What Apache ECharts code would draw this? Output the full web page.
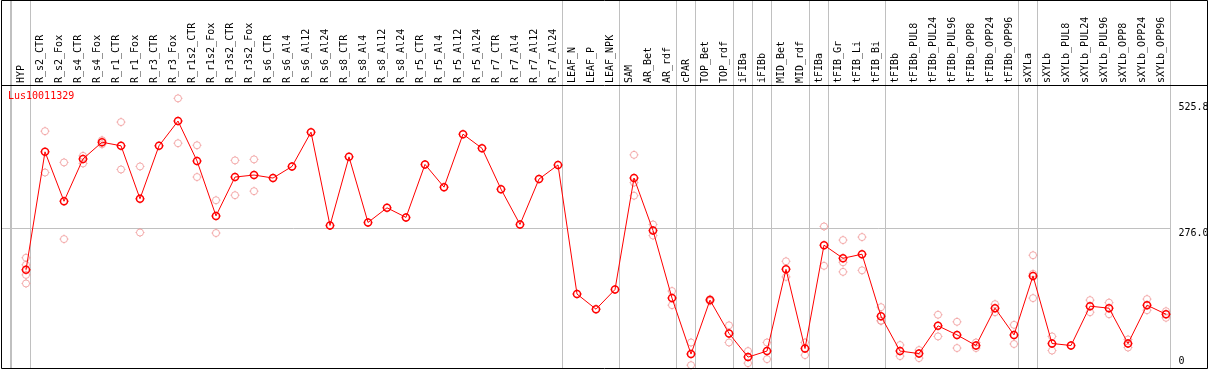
<!DOCTYPE html>
<html>
<head>
<meta charset="utf-8">
<script src="https://cdn.jsdelivr.net/npm/echarts@6/dist/echarts.min.js"></script>
<style>
html,body{margin:0;padding:0;background:#ffffff;}
#chart{width:1209px;height:370px;}
</style>
</head>
<body>
<div id="chart"></div>
<script>
// ---- data ----
const geneId = 'Lus10011329';
const categories = [
  'HYP','R_s2_CTR','R_s2_Fox','R_s4_CTR','R_s4_Fox','R_r1_CTR','R_r1_Fox','R_r3_CTR','R_r3_Fox',
  'R_r1s2_CTR','R_r1s2_Fox','R_r3s2_CTR','R_r3s2_Fox','R_s6_CTR','R_s6_Al4','R_s6_Al12','R_s6_Al24',
  'R_s8_CTR','R_s8_Al4','R_s8_Al12','R_s8_Al24','R_r5_CTR','R_r5_Al4','R_r5_Al12','R_r5_Al24',
  'R_r7_CTR','R_r7_Al4','R_r7_Al12','R_r7_Al24','LEAF_N','LEAF_P','LEAF_NPK','SAM','AR_Bet','AR_rdf',
  'cPAR','TOP_Bet','TOP_rdf','iFIBa','iFIBb','MID_Bet','MID_rdf','tFIBa','tFIB_Gr','tFIB_Li','tFIB_Bi',
  'tFIBb','tFIBb_PUL8','tFIBb_PUL24','tFIBb_PUL96','tFIBb_OPP8','tFIBb_OPP24','tFIBb_OPP96',
  'sXYLa','sXYLb','sXYLb_PUL8','sXYLb_PUL24','sXYLb_PUL96','sXYLb_OPP8','sXYLb_OPP24','sXYLb_OPP96'
];
const means = [
  193, 427, 329, 413, 446, 439, 334, 439, 488, 409, 300, 377, 381, 375, 398, 466, 281,
  417, 287, 316, 297, 402, 357, 462, 434, 353, 283, 373, 401, 145, 115, 154, 375, 271, 137,
  26, 133, 67, 20, 32, 194, 37, 242, 216, 224, 101, 32, 27, 82, 64, 43, 117, 64,
  181, 47, 43, 121, 117, 47, 123, 105
];
const replicates = [
  [217, 203, 183, 166], [468, 386], [406, 254], [419, 404], [450, 442], [486, 392], [398, 267], [],
  [533, 444], [440, 377], [331, 266], [410, 341], [412, 349], [], [], [], [],
  [], [], [], [], [], [], [], [],
  [], [], [], [], [], [], [], [421, 366, 340], [283, 261], [151, 123],
  [49, 4], [135, 131], [83, 49], [32, 8], [49, 16], [210, 179], [49, 24], [279, 201], [252, 208, 189], [258, 192], [119, 92, 92],
  [44, 22], [34, 18], [104, 61], [90, 38], [49, 38], [125, 109], [84, 46],
  [222, 185, 137], [61, 33], [], [133, 109], [128, 105], [55, 39], [135, 113], [111, 98]
];
const yTicks = [0, 276.0, 525.8];
const yGridValues = [276.0];
const groupStarts = [0, 1, 29, 32, 35, 36, 38, 39, 40, 42, 43, 46, 53, 54];
const yMax = 557.5;

// ---- build ----
const FONT = 'DejaVu Sans Mono';
const repPoints = [];
replicates.forEach((arr, i) => arr.forEach(v => repPoints.push([i, v])));

const markerPath = 'path://M-3.5,0A3.5,3.5 0 1 1 3.5,0A3.5,3.5 0 1 1 -3.5,0ZM0,-4.5L0,-3.5M0,3.5L0,4.5M-4.5,0L-3.5,0M3.5,0L4.5,0';

const chart = echarts.init(document.getElementById('chart'), null, {renderer: 'canvas'});
chart.setOption({
  animation: false,
  backgroundColor: '#ffffff',
  title: {
    text: geneId, left: 8, top: 91, padding: 0,
    textStyle: {color: '#ff0000', fontSize: 10, fontWeight: 'normal', fontFamily: FONT}
  },
  grid: [
    {left: 16.5, top: 86, width: 1159, height: 281.2, containLabel: false, outerBoundsMode: 'none'},
    {left: 11.5, top: 0, width: 1159, height: 369, containLabel: false, outerBoundsMode: 'none'},
    {left: 1.5, top: 86, width: 1169, height: 281.2, containLabel: false, outerBoundsMode: 'none'}
  ],
  xAxis: [
    {type: 'category', gridIndex: 0, data: categories, boundaryGap: true, show: false},
    {
      type: 'category', gridIndex: 1, data: categories, boundaryGap: true,
      position: 'top', offset: -85,
      axisLine: {show: false}, axisTick: {show: false},
      axisLabel: {interval: 0, rotate: 90, margin: 2, fontFamily: FONT, fontSize: 10, color: '#000000'},
      splitLine: {show: true, showMinLine: true, showMaxLine: true,
                  interval: (i) => groupStarts.indexOf(i) >= 0,
                  lineStyle: {color: '#c0c0c0', width: 1}}
    },
    {type: 'value', gridIndex: 2, show: false}
  ],
  yAxis: [
    {type: 'value', gridIndex: 0, min: 0, max: yMax, show: false},
    {type: 'value', gridIndex: 1, show: false},
    {
      type: 'value', gridIndex: 2, position: 'right', min: 0, max: yMax,
      axisLine: {show: false},
      axisTick: {show: false, customValues: yGridValues},
      splitLine: {show: true, lineStyle: {color: '#c0c0c0', width: 1}},
      axisLabel: {
        customValues: yTicks, margin: 8, align: 'left', verticalAlign: 'middle',
        formatter: (v) => v === 0 ? '{b|0}' : '{t|' + v.toFixed(1) + '}',
        rich: {
          t: {padding: [11, 0, 0, 0], fontFamily: FONT, fontSize: 10, color: '#000000'},
          b: {padding: [0, 0, 11, 0], fontFamily: FONT, fontSize: 10, color: '#000000'}
        }
      }
    }
  ],
  series: [
    {
      type: 'scatter', xAxisIndex: 0, yAxisIndex: 0, data: repPoints, z: 1,
      symbol: markerPath, symbolSize: 9,
      itemStyle: {color: 'rgba(0,0,0,0)', borderColor: '#f09696', borderWidth: 1}
    },
    {
      type: 'line', xAxisIndex: 0, yAxisIndex: 0, data: means, z: 3,
      symbol: markerPath, symbolSize: 9, showSymbol: true, showAllSymbol: true,
      lineStyle: {color: '#ff0000', width: 1},
      itemStyle: {color: 'rgba(0,0,0,0)', borderColor: '#ff0000', borderWidth: 1.5}
    }
  ],
  graphic: [
    {type: 'line', z: 0, silent: true, shape: {x1: 10.5, y1: 0.5, x2: 10.5, y2: 368.5},
     style: {stroke: '#c0c0c0', lineWidth: 1}},
    {type: 'rect', z: 100, silent: true, shape: {x: 1.5, y: 0.5, width: 1206, height: 368},
     style: {fill: 'none', stroke: '#000000', lineWidth: 1}},
    {type: 'line', z: 100, silent: true, shape: {x1: 1.5, y1: 85.5, x2: 1207.5, y2: 85.5},
     style: {stroke: '#000000', lineWidth: 1}}
  ]
});
</script>
</body>
</html>
